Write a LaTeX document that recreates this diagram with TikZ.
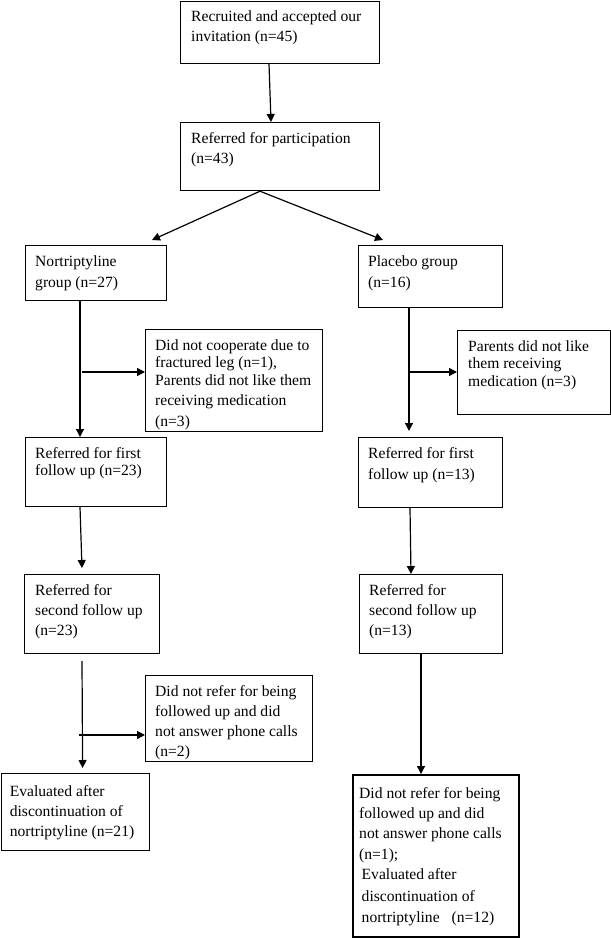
\documentclass[tikz,border=0pt]{standalone}
\usepackage{fontspec}
\setmainfont{Liberation Serif}
\usetikzlibrary{arrows.meta}
\begin{document}
\begin{tikzpicture}[x=1pt,y=-1pt,
  box/.style={draw, line width=1.2pt, rectangle, inner sep=0pt, anchor=north west},
  txt/.style={inner sep=0pt, anchor=north west, align=left, font=\fontsize{15.6}{20}\selectfont},
  arr/.style={line width=1.2pt, -{Triangle[length=8pt,width=8pt]}},
  ln/.style={line width=1.2pt}]
\useasboundingbox (0,0) rectangle (611,938);
\fill[white] (0,0) rectangle (611,938);

% boxes
\node[box, minimum width=199pt, minimum height=62pt] (b1) at (180,0.6) {};
\node[txt] (b1t) at ([shift={(11pt,-10pt)}]b1.north west) {Recruited and accepted our\\invitation (n=45)};

\node[box, minimum width=199pt, minimum height=68pt] (b2) at (180,122) {};
\node[txt] (b2t) at ([shift={(11pt,-10pt)}]b2.north west) {Referred for participation\\(n=43)};

\node[box, minimum width=141pt, minimum height=55pt] (b3) at (25,245) {};
\node[txt, font=\fontsize{15.6}{21}\selectfont] (b3t) at ([shift={(10pt,-10pt)}]b3.north west) {Nortriptyline\\group (n=27)};

\node[box, minimum width=144pt, minimum height=62pt] (b4) at (358,245) {};
\node[txt, font=\fontsize{15.6}{21}\selectfont] (b4t) at ([shift={(10pt,-10pt)}]b4.north west) {Placebo group\\(n=16)};

\node[box, minimum width=177pt, minimum height=102pt] (b5) at (145,329) {};
\node[txt] (b5t) at ([shift={(10pt,-10pt)}]b5.north west) {Did not cooperate due to\\[-2.4pt]fractured leg (n=1),\\[-2.4pt]Parents did not like them\\receiving medication\\[1.5pt](n=3)};

\node[box, minimum width=141pt, minimum height=69pt] (b6) at (25,437) {};
\node[txt, font=\fontsize{15.6}{17.7}\selectfont] (b6t) at ([shift={(10pt,-10pt)}]b6.north west) {Referred for first\\follow up (n=23)};

\node[box, minimum width=153pt, minimum height=84pt] (b7) at (457,330) {};
\node[txt, font=\fontsize{15.6}{17.8}\selectfont] (b7t) at ([shift={(11pt,-10pt)}]b7.north west) {Parents did not like\\them receiving\\medication (n=3)};

\node[box, minimum width=144pt, minimum height=70pt] (b8) at (358,437) {};
\node[txt, font=\fontsize{15.6}{21}\selectfont] (b8t) at ([shift={(10pt,-10pt)}]b8.north west) {Referred for first\\follow up (n=13)};

\node[box, minimum width=135pt, minimum height=79pt] (b9) at (24,574) {};
\node[txt] (b9t) at ([shift={(11pt,-10pt)}]b9.north west) {Referred for\\second follow up\\(n=23)};

\node[box, minimum width=143pt, minimum height=79pt] (b10) at (359,574) {};
\node[txt] (b10t) at ([shift={(10pt,-10pt)}]b10.north west) {Referred for\\second follow up\\(n=13)};

\node[box, minimum width=167pt, minimum height=86pt] (b11) at (145,675) {};
\node[txt] (b11t) at ([shift={(10pt,-10pt)}]b11.north west) {Did not refer for being\\followed up and did\\not answer phone calls\\(n=2)};

\node[box, minimum width=148pt, minimum height=77pt] (b12) at (0.6,773) {};
\node[txt] (b12t) at ([shift={(9pt,-12pt)}]b12.north west) {Evaluated after\\discontinuation of\\nortriptyline (n=21)};

\node[box, line width=2pt, minimum width=166pt, minimum height=162pt] (b13) at (352,774) {};
\node[txt] (b13t) at ([shift={(7pt,-13pt)}]b13.north west) {Did not refer for being\\followed up and did\\not answer phone calls\\[1.5pt](n=1);\\\hspace*{2.5pt}Evaluated after\\[1.5pt]\hspace*{2.5pt}discontinuation of\\[1.5pt]\hspace*{2.5pt}nortriptyline\hspace{12pt}(n=12)};

% connectors
\draw[arr] ([xshift=89pt]b1.south west) -- ([xshift=91pt]b2.north west);
\coordinate (split) at ([xshift=80pt]b2.south west);
\draw[arr] (split) -- ([shift={(127pt,5pt)}]b3.north west);
\draw[arr] (split) -- ([shift={(25pt,5pt)}]b4.north west);

\draw[arr] ([xshift=55pt]b3.south west) -- ([xshift=55pt]b6.north west);
\coordinate (j1) at (82,372);
\draw[arr] (j1) -- (j1 -| b5.west);

\draw[arr] ([xshift=51pt]b4.south west) -- ([shift={(51pt,6pt)}]b8.north west);
\coordinate (j2) at (409,372);
\draw[arr] (j2) -- (j2 -| b7.west);

\draw[arr] ([xshift=55pt]b6.south west) -- ([shift={(58pt,6pt)}]b9.north west);
\draw[arr] ([xshift=52pt]b8.south west) -- ([xshift=52pt]b10.north west);

\draw[arr] ([shift={(58pt,-7pt)}]b9.south west) -- ([shift={(82pt,5pt)}]b12.north west);
\coordinate (j3) at (79,735);
\draw[arr] (j3) -- (j3 -| b11.west);

\draw[arr] ([xshift=62pt]b10.south west) -- ([xshift=69pt]b13.north west);
\end{tikzpicture}
\end{document}
